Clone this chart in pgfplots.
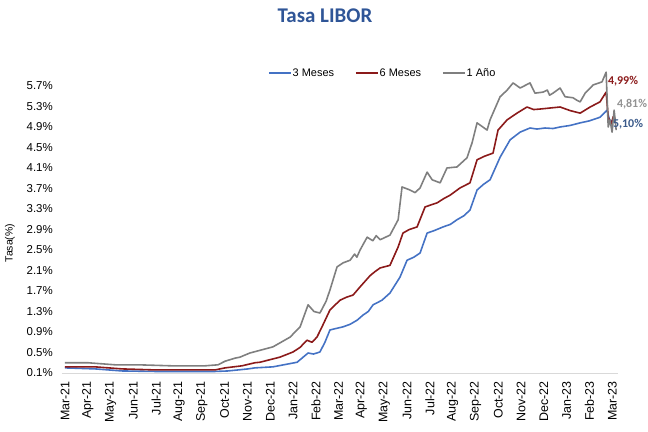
\documentclass[border=0pt]{standalone}
\usepackage{fontspec}
\setmainfont{Liberation Sans}
\newfontfamily\calibri{Carlito}
\usepackage{pgfplots}
\pgfplotsset{compat=1.18}
\definecolor{cblue}{HTML}{4472C4}
\definecolor{cred}{HTML}{8B1A1A}
\definecolor{cgray}{HTML}{7F7F7F}
\definecolor{ctitle}{HTML}{2F5597}
\definecolor{clab}{HTML}{3B5A8A}
\begin{document}
\begin{tikzpicture}
\useasboundingbox (-62bp,-59bp) rectangle (586bp,373bp);
\begin{axis}[
 at={(0,0)}, anchor=south west,
 scale only axis, width=556bp, height=302.4bp,
 xmin=-0.13, xmax=24.25, ymin=0.1, ymax=6.0,
 clip=false,
 axis x line*=bottom, axis y line*=left,
 x axis line style={draw=black!15, line width=0.8pt, -},
 y axis line style={draw=none},
 major tick length=0pt,
 xtick={0,...,24},
 xticklabels={Mar-21,Apr-21,May-21,Jun-21,Jul-21,Aug-21,Sep-21,Oct-21,Nov-21,Dec-21,Jan-22,Feb-22,Mar-22,Apr-22,May-22,Jun-22,Jul-22,Aug-22,Sep-22,Oct-22,Nov-22,Dec-22,Jan-23,Feb-23,Mar-23},
 xticklabel style={yshift=-8bp, rotate=90, anchor=east, inner sep=0pt, font=\fontsize{12.5}{12.5}\selectfont},
 ytick={0.1,0.5,0.9,1.3,1.7,2.1,2.5,2.9,3.3,3.7,4.1,4.5,4.9,5.3,5.7},
 yticklabels={0.1\%,0.5\%,0.9\%,1.3\%,1.7\%,2.1\%,2.5\%,2.9\%,3.3\%,3.7\%,4.1\%,4.5\%,4.9\%,5.3\%,5.7\%},
 yticklabel style={anchor=east, inner sep=0pt, xshift=-9bp, font=\fontsize{11.5}{11.5}\selectfont},
 legend columns=3,
 legend style={at={(0.576,0.992)}, anchor=center, draw=none, fill=none,
   font=\fontsize{11}{11}\selectfont, inner sep=0pt,
   nodes={inner sep=1pt},
   /tikz/every even column/.append style={column sep=20bp}},
 legend image code/.code={\draw[#1] (0bp,0bp) -- (22bp,0bp);},
 every axis plot/.append style={line width=1.6pt, line join=round},
]
\addplot[cblue] coordinates {
(0,0.20) (1.32,0.18) (2.50,0.14) (3.95,0.13) (6.58,0.13) (7.15,0.14) (8.03,0.18) (8.33,0.20)
(9.12,0.22) (10.18,0.31) (10.66,0.49) (10.9,0.47) (11.18,0.51) (11.4,0.70) (11.62,0.94) (11.9,0.97) (12.19,1.00) (12.5,1.05) (12.81,1.13)
(13.07,1.23) (13.3,1.30) (13.51,1.43) (13.9,1.52) (14.25,1.66) (14.69,1.97) (15.00,2.30) (15.3,2.36) (15.57,2.44) (15.88,2.83)
(16.2,2.88) (16.58,2.95) (16.9,3.00) (17.19,3.09) (17.5,3.17) (17.76,3.28) (18.07,3.67) (18.35,3.78) (18.64,3.87) (19.08,4.31) (19.52,4.65)
(19.96,4.80) (20.39,4.88) (20.7,4.86) (21.05,4.88) (21.4,4.87) (21.71,4.90) (22.15,4.93) (22.59,4.98) (23.0,5.02) (23.46,5.09) (23.77,5.23)
(23.90,5.00) (24.04,5.04)
};
\addlegendentry{3 Meses}
\addplot[cred] coordinates {
(0,0.22) (1.32,0.22) (2.50,0.18) (3.95,0.16) (6.58,0.16) (7.02,0.20) (7.76,0.24) (8.33,0.30)
(8.55,0.31) (9.43,0.41) (10.00,0.51) (10.31,0.60) (10.61,0.74) (10.83,0.70) (11.05,0.80)
(11.27,1.00) (11.62,1.33) (12.06,1.52) (12.35,1.58) (12.63,1.62) (12.94,1.78) (13.38,2.00) (13.6,2.08) (13.82,2.15)
(14.25,2.20) (14.61,2.56) (14.82,2.83) (15.1,2.90) (15.44,2.95) (15.79,3.34) (16.05,3.38) (16.32,3.42) (16.6,3.50) (16.89,3.57)
(17.32,3.71) (17.76,3.81) (18.07,4.26) (18.4,4.33) (18.77,4.39) (18.99,4.84) (19.39,5.04) (19.82,5.17)
(20.26,5.29) (20.55,5.24) (20.83,5.25) (21.27,5.27) (21.71,5.29) (22.15,5.22) (22.59,5.17) (23.03,5.29)
(23.46,5.39) (23.73,5.58) (23.82,5.09) (23.95,4.95) (24.04,5.10) (24.12,5.07)
};
\addlegendentry{6 Meses}
\addplot[cgray] coordinates {
(0,0.30) (1.01,0.30) (2.19,0.26) (3.20,0.26) (4.69,0.24) (6.14,0.24) (6.71,0.26) (7.02,0.33)
(7.46,0.39) (7.68,0.41) (7.89,0.45) (8.11,0.49) (9.12,0.61) (9.87,0.80) (10.31,1.00)
(10.66,1.43) (10.92,1.30) (11.18,1.27) (11.45,1.50) (11.62,1.72) (11.93,2.17) (12.2,2.25) (12.50,2.30)
(12.7,2.42) (12.8,2.36) (12.94,2.50) (13.25,2.75) (13.5,2.68) (13.65,2.78) (13.82,2.70) (14.25,2.79) (14.61,3.09) (14.78,3.73) (15.13,3.67)
(15.35,3.62) (15.57,3.71) (15.88,4.02) (16.10,3.87) (16.45,3.81) (16.75,4.10) (17.19,4.12) (17.63,4.30)
(17.85,4.59) (18.07,4.98) (18.51,4.84) (18.64,5.04) (19.08,5.49) (19.39,5.62) (19.65,5.76)
(19.96,5.66) (20.39,5.76) (20.61,5.56) (20.96,5.58) (21.15,5.62) (21.25,5.52) (21.40,5.56) (21.71,5.66) (21.93,5.49)
(22.28,5.47) (22.45,5.42) (22.59,5.39) (22.81,5.56) (23.16,5.72) (23.55,5.78) (23.73,5.97) (23.82,4.90)
(23.90,5.04) (23.99,4.80) (24.08,5.23) (24.17,4.84)
};
\addlegendentry{1 Año}
\end{axis}
\node[font=\calibri\bfseries\fontsize{21}{21}\selectfont, text=ctitle] at (263bp,357bp) {Tasa LIBOR};
\node[rotate=90, font=\fontsize{10.5}{10.5}\selectfont] at (-52bp,130bp) {Tasa(\%)};
\node[font=\calibri\bfseries\fontsize{12}{12}\selectfont, text=cred] at (561bp,292bp) {4,99\%};
\node[font=\calibri\bfseries\fontsize{12}{12}\selectfont, text=cgray!85] at (570bp,269bp) {4,81\%};
\node[font=\calibri\bfseries\fontsize{12}{12}\selectfont, text=clab] at (566bp,249bp) {5,10\%};
\end{tikzpicture}
\end{document}
